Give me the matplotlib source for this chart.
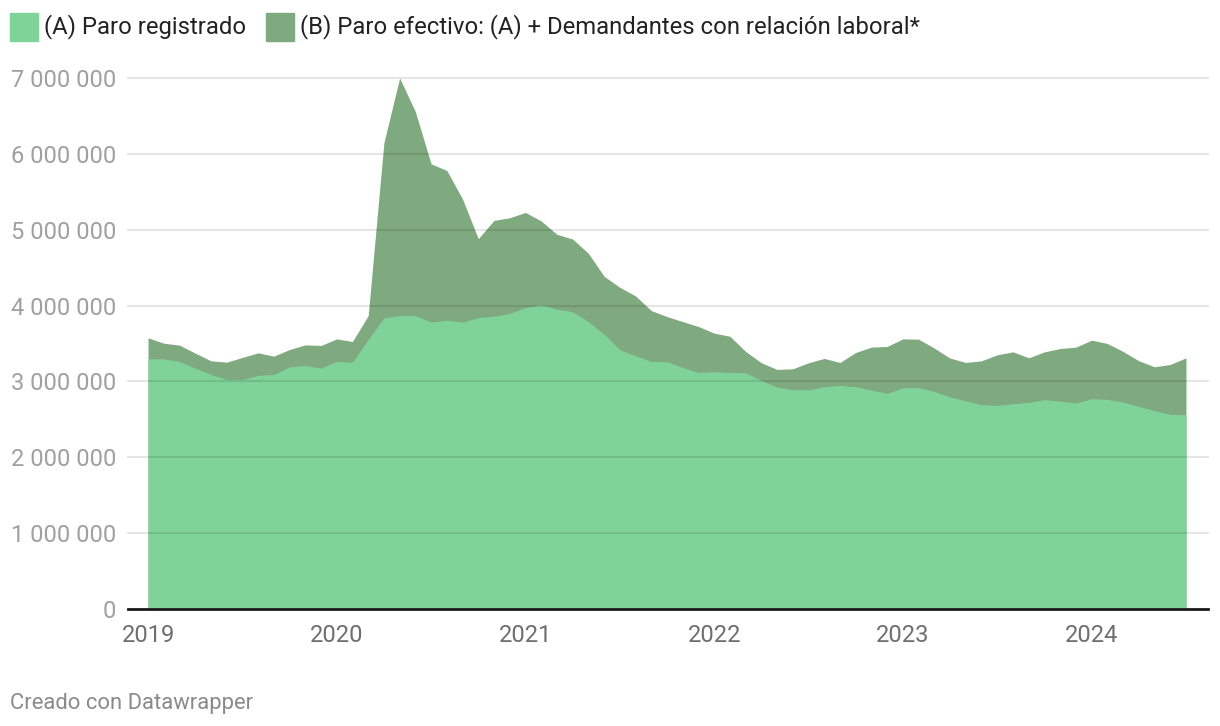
import numpy as np
import matplotlib
matplotlib.use("Agg")
import matplotlib.pyplot as plt
from matplotlib.patches import Rectangle
from matplotlib.ticker import FuncFormatter

plt.rcParams['font.family'] = ['Roboto', 'DejaVu Sans']

# datos mensuales ene-2019 .. jul-2024, en millones
years = [2019, 2020, 2021, 2022, 2023, 2024]

paro_registrado = [
    3.298, 3.298, 3.263, 3.175, 3.092, 3.026, 3.026, 3.079, 3.092, 3.193, 3.211, 3.175,
    3.263, 3.254, 3.553, 3.838, 3.868, 3.868, 3.781, 3.807, 3.781, 3.842, 3.860, 3.895,
    3.974, 4.009, 3.952, 3.917, 3.789, 3.623, 3.417, 3.338, 3.263, 3.259, 3.184, 3.118,
    3.127, 3.118, 3.114, 3.013, 2.925, 2.890, 2.890, 2.930, 2.947, 2.930, 2.886, 2.842,
    2.917, 2.917, 2.868, 2.794, 2.746, 2.693, 2.684, 2.706, 2.724, 2.759, 2.741, 2.715,
    2.772, 2.763, 2.728, 2.671, 2.614, 2.566, 2.561,
]

paro_efectivo = [
    3.575, 3.504, 3.478, 3.373, 3.272, 3.254, 3.316, 3.377, 3.333, 3.421, 3.482, 3.474,
    3.561, 3.526, 3.868, 6.149, 7.000, 6.557, 5.868, 5.781, 5.404, 4.882, 5.123, 5.158,
    5.228, 5.115, 4.939, 4.877, 4.689, 4.386, 4.241, 4.127, 3.934, 3.855, 3.789, 3.724,
    3.636, 3.596, 3.395, 3.246, 3.158, 3.167, 3.246, 3.303, 3.250, 3.382, 3.452, 3.461,
    3.561, 3.557, 3.439, 3.307, 3.250, 3.272, 3.351, 3.390, 3.311, 3.390, 3.434, 3.452,
    3.544, 3.500, 3.395, 3.272, 3.193, 3.224, 3.311,
]

legend_labels = ['(A) Paro registrado',
                 '(B) Paro efectivo: (A) + Demandantes con relación laboral*']

col_a = '#7fd298'
col_b = '#7faa7f'

a = np.array(paro_registrado) * 1e6
b = np.array(paro_efectivo) * 1e6
x = np.arange(len(a))

fig = plt.figure(figsize=(12.2, 7.26), dpi=100)
ax = fig.add_axes([128 / 1220, 117 / 726, 1080 / 1220, 531 / 726])

ax.fill_between(x, 0, b, color=col_b, linewidth=0, zorder=2)
ax.fill_between(x, 0, a, color=col_a, linewidth=0, zorder=3)

ax.set_xlim(-20 / 15.72, 67.4)
ax.set_ylim(0, 7e6)

yt = np.arange(0, 7e6 + 1, 1e6)
ax.set_yticks(yt)
ax.yaxis.set_major_formatter(FuncFormatter(lambda v, p: f'{int(v):,}'.replace(',', ' ')))
for v in yt[1:]:
    ax.axhline(v, color='black', alpha=0.1, linewidth=1.5, zorder=4, clip_on=False)

ax.set_xticks([12 * i for i in range(len(years))])
ax.set_xticklabels([str(y) for y in years])

for s in ['top', 'right', 'left']:
    ax.spines[s].set_visible(False)
ax.spines['bottom'].set_color('#1a1a1a')
ax.spines['bottom'].set_linewidth(2)
ax.spines['bottom'].set_zorder(5)

ax.tick_params(axis='y', length=0, pad=8.5, labelsize=17, labelcolor='#a0a0a0')
ax.tick_params(axis='x', length=0, pad=10.5, labelsize=17, labelcolor='#6e6e6e')

# leyenda superior
fig.patches.append(Rectangle((10 / 1220, 1 - 41 / 726), 28 / 1220, 28 / 726,
                             transform=fig.transFigure, color=col_a, figure=fig))
fig.text(44 / 1220, 1 - 27 / 726, legend_labels[0], fontsize=17.2,
         color='#222222', va='center', ha='left')
fig.patches.append(Rectangle((266 / 1220, 1 - 41 / 726), 28 / 1220, 28 / 726,
                             transform=fig.transFigure, color=col_b, figure=fig))
fig.text(300 / 1220, 1 - 27 / 726, legend_labels[1], fontsize=17.2,
         color='#222222', va='center', ha='left')

fig.text(10 / 1220, 1 - 703 / 726, 'Creado con Datawrapper', fontsize=15.8,
         color='#8a8a8a', va='center', ha='left')

fig.savefig('out.png', dpi=100, facecolor='white')
